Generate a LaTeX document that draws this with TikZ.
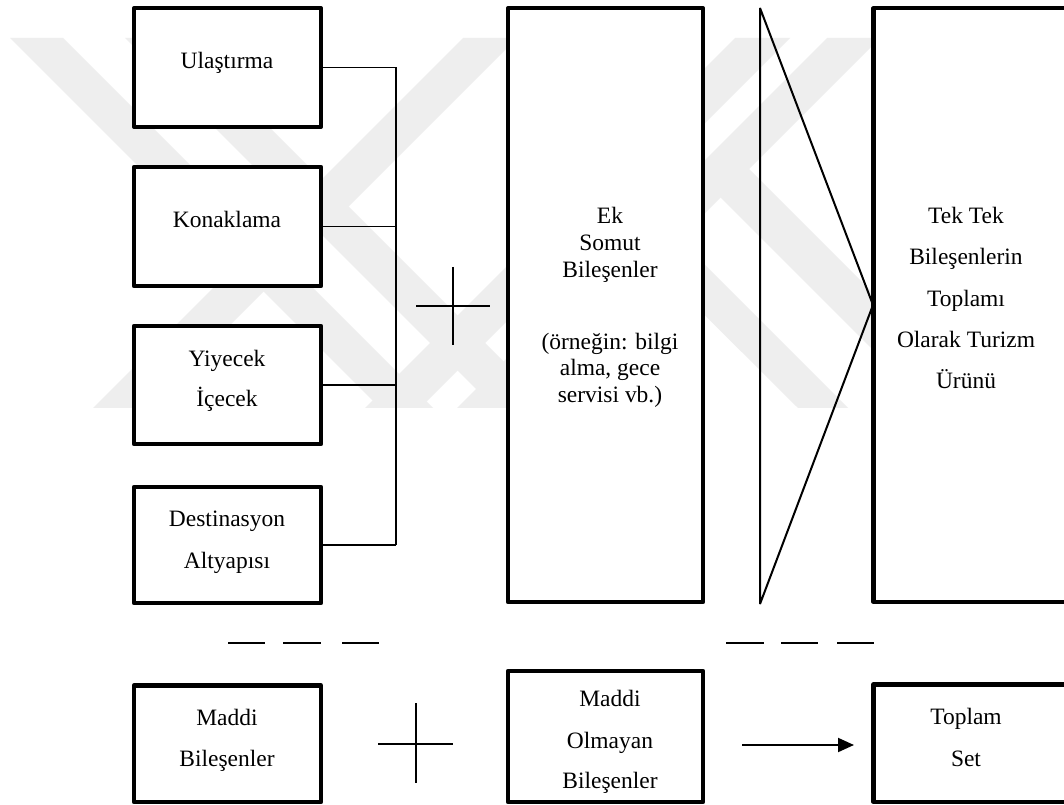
\documentclass[tikz,border=0pt]{standalone}
\usepackage{fontspec}
\setmainfont{Liberation Serif}
\usetikzlibrary{fit,arrows.meta}
\definecolor{wmgray}{gray}{0.935}

\begin{document}
\begin{tikzpicture}[x=0.75pt, y=-0.75pt,
  boxnode/.style={draw=black, line width=3.2pt, line join=round, fill=white,
                  inner sep=0pt, outer sep=0pt},
  txt/.style={anchor=base, inner sep=0pt, font=\fontsize{17.6pt}{20pt}\selectfont},
  link/.style={line width=1.2pt},
  wedge/.style={line width=1.5pt, line join=bevel},
  dashseg/.style={line width=1.8pt},
  plusmark/.style={line width=1.5pt},
  arrowlink/.style={line width=1.5pt, -{Triangle[length=12pt, width=10.5pt]}},
  wmband/.style={fill=wmgray}]

\useasboundingbox (0,0) rectangle (1064,805);
\clip (0,0) rectangle (1064,805);
\fill[white] (0,0) rectangle (1064,805);

% faint background emblem made of diagonal bands
\begin{scope}
  \clip (0,38) rectangle (1064,408);
  \fill[wmband] (10,38) -- (63,38) -- (433,408) -- (380,408) -- cycle;
  \fill[wmband] (125,38) -- (180,38) -- (550,408) -- (495,408) -- cycle;
  \fill[wmband] (463,38) -- (517,38) -- (147,408) -- (93,408) -- cycle;
  \fill[wmband] (735,38) -- (790,38) -- (420,408) -- (365,408) -- cycle;
  \fill[wmband] (827,38) -- (880,38) -- (510,408) -- (457,408) -- cycle;
  \fill[wmband] (694,171) -- (749,169) -- (988,408) -- (931,408) -- cycle;
  \fill[wmband] (581,192) -- (634,194) -- (848,408) -- (798,408) -- cycle;
\end{scope}

% tangible component boxes
\node[boxnode, fit={(134,8.3) (321,126.7)}] (ul) {};
\node[boxnode, fit={(134,167) (321,286)}] (kn) {};
\node[boxnode, fit={(134,326) (321,444)}] (yi) {};
\node[boxnode, fit={(134,487) (321,603)}] (de) {};
\node[boxnode, fit={(134,685.5) (321,802)}] (mb) {};

% middle and right columns
\node[boxnode, fit={(508,8.3) (703,602)}] (ek) {};
\node[boxnode, fit={(508,671) (703,802)}] (mo) {};
\node[boxnode, fit={(873.5,8.3) (1090,602)}] (tt) {};
\node[boxnode, fit={(873.5,684.5) (1090,802)}] (ts) {};

% collecting bus on the left
\coordinate (bus) at (396,0);
\draw[link] (ul.east) -- (ul.east -| bus);
\draw[link] (kn.east) -- (kn.east -| bus);
\draw[link] (yi.east) -- (yi.east -| bus);
\draw[link] (de.east) -- (de.east -| bus);
\draw[link] (ul.east -| bus) -- (de.east -| bus);

% plus signs
\draw[plusmark] (416,306) -- (490,306);
\draw[plusmark] (453,267) -- (453,345);
\draw[plusmark] (378,744) -- (453,744);
\draw[plusmark] (416,703) -- (416,783);

% wedge pointing to the sum box
\draw[wedge] (760,8) -- (873,305) -- (760,604) -- cycle;

% separating dashes
\draw[dashseg] (228,643) -- (265,643);
\draw[dashseg] (283,643) -- (321,643);
\draw[dashseg] (342,643) -- (379,643);
\draw[dashseg] (726,643) -- (764,643);
\draw[dashseg] (781,643) -- (818,643);
\draw[dashseg] (837,643) -- (874,643);

% arrow to the total set
\coordinate (arrTail) at (742,745);
\coordinate (arrTip) at (854,745);
\draw[arrowlink] (arrTail) -- (arrTip);

% labels
\node[txt] (ulT) at (227,69) {Ulaştırma};
\node[txt] (knT) at (227,228) {Konaklama};
\node[txt] (yiT1) at (227,367) {Yiyecek};
\node[txt] (yiT2) at (227,407) {İçecek};
\node[txt] (deT1) at (227,526) {Destinasyon};
\node[txt] (deT2) at (227,568) {Altyapısı};
\node[txt] (mbT1) at (227,725) {Maddi};
\node[txt] (mbT2) at (227,766) {Bileşenler};

\node[txt] (ekT1) at (610,224) {Ek};
\node[txt] (ekT2) at (610,251) {Somut};
\node[txt] (ekT3) at (610,278) {Bileşenler};
\node[txt] (ekT4) at (610,350) {(örneğin: bilgi};
\node[txt] (ekT5) at (610,376) {alma, gece};
\node[txt] (ekT6) at (610,403) {servisi vb.)};

\node[txt] (moT1) at (610,706) {Maddi};
\node[txt] (moT2) at (610,748) {Olmayan};
\node[txt] (moT3) at (610,788) {Bileşenler};

\node[txt] (ttT1) at (966,224) {Tek Tek};
\node[txt] (ttT2) at (966,265) {Bileşenlerin};
\node[txt] (ttT3) at (966,307) {Toplamı};
\node[txt] (ttT4) at (966,348) {Olarak Turizm};
\node[txt] (ttT5) at (966,389) {Ürünü};

\node[txt] (tsT1) at (966,724) {Toplam};
\node[txt] (tsT2) at (966,766) {Set};
\end{tikzpicture}
\end{document}
